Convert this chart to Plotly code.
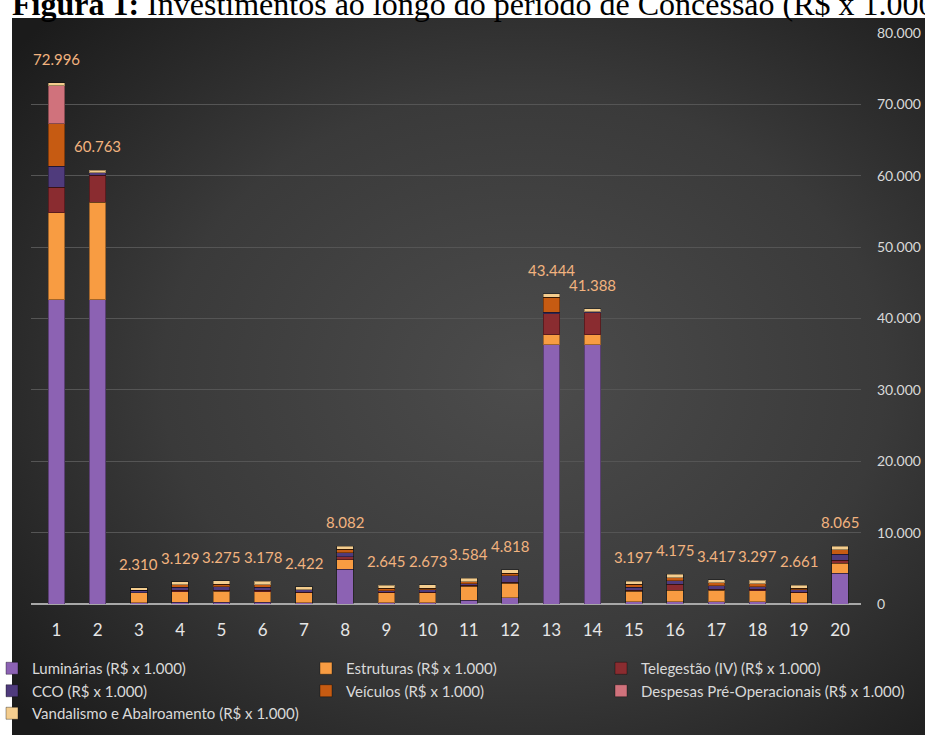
import base64
import plotly.graph_objects as go

# ---------------- data (R$ x 1.000) ----------------
categories = ["1", "2", "3", "4", "5", "6", "7", "8", "9", "10",
              "11", "12", "13", "14", "15", "16", "17", "18", "19", "20"]

totals = [72996, 60763, 2310, 3129, 3275, 3178, 2422, 8082, 2645, 2673,
          3584, 4818, 43444, 41388, 3197, 4175, 3417, 3297, 2661, 8065]

luminarias = [42600, 42600, 150, 250, 250, 250, 200, 4900, 200, 200,
              500, 850, 36300, 36300, 300, 350, 300, 300, 200, 4300]
estruturas = [12200, 13700, 1400, 1500, 1550, 1500, 1400, 1300, 1400, 1400,
              2000, 2050, 1400, 1400, 1500, 1600, 1600, 1550, 1400, 1400]
telegestao = [3600, 3800, 0, 150, 150, 150, 50, 400, 50, 50,
              150, 150, 3000, 3100, 150, 800, 200, 200, 50, 450]
cco = [2900, 300, 350, 450, 450, 450, 350, 600, 200, 350,
       200, 900, 200, 150, 400, 500, 450, 400, 350, 850]
veiculos = [6000, 0, 0, 350, 400, 380, 0, 450, 350, 220,
            250, 370, 2100, 0, 400, 450, 400, 400, 220, 600]
despesas = [5300, 0, 0, 0, 0, 0, 0, 0, 0, 0,
            0, 0, 0, 0, 0, 0, 0, 0, 0, 0]
vandalismo = [400, 360, 410, 430, 470, 450, 420, 430, 440, 450,
              480, 500, 440, 440, 450, 470, 470, 450, 440, 460]

series_names = ["Luminárias (R$ x 1.000)", "Estruturas (R$ x 1.000)",
                "Telegestão (IV) (R$ x 1.000)", "CCO (R$ x 1.000)",
                "Veículos (R$ x 1.000)", "Despesas Pré-Operacionais (R$ x 1.000)",
                "Vandalismo e Abalroamento (R$ x 1.000)"]
series_values = [luminarias, estruturas, telegestao, cco, veiculos, despesas, vandalismo]
series_colors = ["#8c62b3", "#f89c42", "#8a2c30", "#4f3b7c", "#c65b12", "#d0727c", "#f4cd8e"]
series_legend = ["legend", "legend2", "legend3", "legend", "legend2", "legend3", "legend"]

title_html = "<b>Figura 1:</b> Investimentos ao longo do período de Concessão (R$ x 1.000)"

# ---------------- geometry helpers ----------------
W, H = 925, 735
ML, MR, MT, MB = 31, 64, 33, 131
PW, PH = W - ML - MR, H - MT - MB


def px_x(p):
    return (p - ML) / PW


def px_y(p):
    return (H - MB - p) / PH


fig = go.Figure()
for name, vals, col, lg in zip(series_names, series_values, series_colors, series_legend):
    fig.add_trace(go.Bar(
        x=categories, y=vals, name=name, legend=lg,
        marker=dict(color=col, line=dict(color="rgba(0,0,0,0.35)", width=1)),
        hoverinfo="name+y",
    ))

# total labels (category axis -> position index)
for i, t in enumerate(totals):
    fig.add_annotation(
        x=i, y=t, xref="x", yref="y", text=f"{t:,}".replace(",", "."),
        showarrow=False, yanchor="bottom", yshift=13,
        font=dict(family="Lato", size=15, color="#f2b37f"),
    )

# title (partially cropped at the top of the page, as in the reference)
fig.add_annotation(
    x=px_x(10), y=px_y(24), xref="paper", yref="paper", xanchor="left", yanchor="bottom",
    text=title_html, showarrow=False, align="left",
    font=dict(family="Liberation Serif", size=32, color="#000000"),
)

# dark radial-gradient background panel
box_x0, box_y0, box_w, box_h = 12, 18, W - 12, H - 18
svg = (
    f"<svg xmlns='http://www.w3.org/2000/svg' width='{box_w}' height='{box_h}' "
    f"viewBox='0 0 {box_w} {box_h}' preserveAspectRatio='none'>"
    "<defs><radialGradient id='g' cx='0.56' cy='0.5' r='0.72'>"
    "<stop offset='0' stop-color='#4c4c4c'/><stop offset='0.55' stop-color='#3a3a3a'/>"
    "<stop offset='1' stop-color='#1b1b1b'/></radialGradient></defs>"
    f"<rect width='{box_w}' height='{box_h}' fill='url(#g)'/></svg>"
)
src = "data:image/svg+xml;base64," + base64.b64encode(svg.encode()).decode()
fig.add_layout_image(
    source=src, xref="paper", yref="paper", x=px_x(box_x0), y=px_y(box_y0),
    sizex=box_w / PW, sizey=box_h / PH, xanchor="left", yanchor="top",
    sizing="stretch", layer="below",
)

legend_common = dict(
    orientation="v", yanchor="top", xanchor="left", bgcolor="rgba(0,0,0,0)",
    font=dict(family="Lato", size=15, color="#d9d9d9"), itemwidth=30,
    traceorder="normal", y=px_y(652), itemclick=False,
)

fig.update_layout(
    width=W, height=H,
    margin=dict(l=ML, r=MR, t=MT, b=MB, pad=0, autoexpand=False),
    paper_bgcolor="#ffffff", plot_bgcolor="rgba(0,0,0,0)",
    barmode="stack", bargap=0.6,
    separators=",.",
    showlegend=True,
    legend=dict(legend_common, x=px_x(-8)),
    legend2=dict(legend_common, x=px_x(306)),
    legend3=dict(legend_common, x=px_x(601)),
    xaxis=dict(
        type="category", showgrid=False, showline=False, ticks="",
        tickfont=dict(family="Lato", size=17, color="#e6e6e6"),
        ticklabelstandoff=14,
    ),
    yaxis=dict(
        side="right", range=[0, 80000], dtick=10000, tickformat=",.0f",
        showgrid=True, gridcolor="#555555", gridwidth=1,
        zeroline=True, zerolinecolor="#a8a8a8", zerolinewidth=2,
        showline=False, ticks="",
        tickfont=dict(family="Lato", size=14, color="#d9d9d9"),
        ticklabelstandoff=15,
    ),
)

fig.write_html("out.html")
